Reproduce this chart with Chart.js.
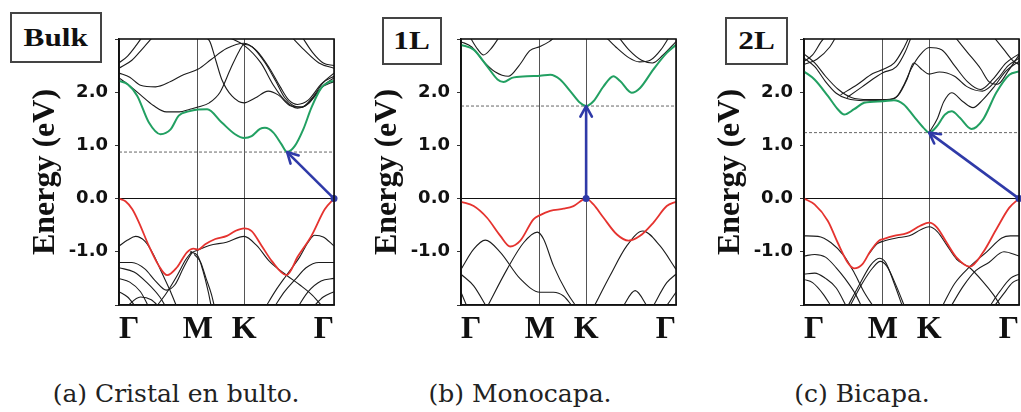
<!DOCTYPE html>
<html>
<head>
<meta charset="UTF-8">
<title>Bandas</title>
<script src="https://cdn.jsdelivr.net/npm/chart.js@4.4.1/dist/chart.umd.min.js"></script>
<style>
  body { margin: 0; background: #fff; }
  #wrap { position: relative; width: 1021px; height: 412px; overflow: hidden; background: #fff; }
  canvas { position: absolute; top: 0; }
  .tag {
    position: absolute; box-sizing: border-box; border: 2px solid #444; background: #fff;
    display: flex; align-items: center; justify-content: center; z-index: 2;
    font: bold 25px "Liberation Serif", serif; color: #111;
  }
  .tag span { display: inline-block; transform: scaleX(1.25); }
  .cap {
    position: absolute; top: 379px; transform: translateX(-50%); white-space: nowrap;
    font: 25px "DejaVu Serif", serif; line-height: 30px; color: #222;
  }
</style>
</head>
<body>
<div id="wrap">
  <canvas id="bulk" width="340" height="350" style="left:0px"></canvas>
  <canvas id="mono" width="340" height="350" style="left:342px"></canvas>
  <canvas id="bi" width="340" height="350" style="left:685px"></canvas>
  <div class="tag" style="left:10px;top:12px;width:92px;height:51px"><span>Bulk</span></div>
  <div class="tag" style="left:382px;top:17px;width:60px;height:48px"><span>1L</span></div>
  <div class="tag" style="left:725px;top:17px;width:63px;height:48px"><span>2L</span></div>
  <div class="cap" style="left:176px">(a) Cristal en bulto.</div>
  <div class="cap" style="left:520px">(b) Monocapa.</div>
  <div class="cap" style="left:862px">(c) Bicapa.</div>
</div>
<script>
// camino Γ-M-K-Γ (fraccion del recorrido) y energias en eV
const kPos = [0, 0.367, 0.582, 1];
const kNames = ['Γ', 'M', 'K', 'Γ'];
const eMin = -2, eMax = 3;

// (a) bulto
const bulkCond = [[0,2.21],[0.04,2.15],[0.085,1.93],[0.139,1.43],[0.193,1.21],[0.24,1.3],[0.278,1.56],[0.324,1.64],[0.367,1.675],[0.41,1.68],[0.478,1.43],[0.54,1.21],[0.582,1.14],[0.617,1.175],[0.656,1.31],[0.679,1.33],[0.718,1.24],[0.756,1.02],[0.782,0.875],[0.818,0.99],[0.857,1.3],[0.895,1.71],[0.941,2.08],[0.975,2.19],[1,2.21]];
const bulkVal = [[0,0],[0.03,-0.05],[0.062,-0.2],[0.093,-0.45],[0.139,-0.89],[0.185,-1.26],[0.224,-1.44],[0.27,-1.29],[0.316,-1.01],[0.347,-0.94],[0.367,-0.96],[0.401,-0.86],[0.448,-0.76],[0.502,-0.7],[0.54,-0.61],[0.582,-0.56],[0.617,-0.61],[0.664,-0.89],[0.71,-1.17],[0.779,-1.44],[0.833,-1.08],[0.895,-0.7],[0.957,-0.2],[1,0]];
const bulkBands = [
  [[0,2.55],[0.04,2.68],[0.08,2.88],[0.11,3.05]],
  [[0,2.45],[0.06,2.6],[0.11,2.82],[0.16,3.05]],
  [[0,2.36],[0.05,2.28],[0.1,2.13],[0.17,2.1],[0.24,2.2],[0.3,2.33],[0.367,2.43],[0.43,2.62],[0.5,2.82],[0.582,2.92],[0.64,2.78],[0.7,2.45],[0.75,2.1],[0.79,1.85],[0.83,1.77],[0.88,1.85],[0.94,2.15],[1,2.36]],
  [[0,2.27],[0.05,2.12],[0.1,1.95],[0.16,1.75],[0.22,1.63],[0.28,1.63],[0.33,1.68],[0.367,1.72],[0.42,1.8],[0.47,2.0],[0.52,2.45],[0.56,2.78],[0.582,2.9],[0.62,2.85],[0.68,2.55],[0.73,2.2],[0.77,1.9],[0.81,1.75],[0.85,1.72],[0.9,1.88],[0.95,2.12],[1,2.27]],
  [[0.38,3.05],[0.42,2.97],[0.45,2.6],[0.478,2.24],[0.525,1.93],[0.582,1.8],[0.633,1.89],[0.694,2.02],[0.74,1.95],[0.8,1.74],[0.85,1.72],[0.9,1.9],[0.95,2.18],[1,2.3]],
  [[0.5,3.05],[0.582,2.88],[0.66,2.55],[0.72,2.12],[0.77,1.85],[0.83,1.7],[0.88,1.78],[0.94,2.08],[1,2.2]],
  [[0.85,3.05],[0.9,2.75],[0.95,2.55],[1,2.5]],
  [[0.8,3.05],[0.86,2.8],[0.93,2.55],[1,2.45]],
  [[0,-0.89],[0.04,-0.78],[0.077,-0.71],[0.12,-0.8],[0.16,-1.05],[0.2,-1.4],[0.24,-1.75],[0.27,-2.05]],
  [[0,-1.2],[0.06,-1.2],[0.12,-1.32],[0.17,-1.55],[0.22,-1.72],[0.26,-1.62],[0.3,-1.3],[0.34,-1.02],[0.367,-0.97],[0.42,-0.88],[0.5,-0.82],[0.582,-0.71],[0.64,-0.88],[0.7,-1.18],[0.779,-1.44],[0.84,-1.62],[0.9,-1.82],[0.95,-2.05]],
  [[0,-1.3],[0.07,-1.38],[0.13,-1.58],[0.19,-1.85],[0.22,-2.05]],
  [[0,-1.5],[0.05,-1.57],[0.1,-1.75],[0.14,-2.05]],
  [[0,-1.75],[0.04,-1.85],[0.08,-2.05]],
  [[0.17,-2.05],[0.22,-1.78],[0.27,-1.45],[0.31,-1.15],[0.34,-0.99]],
  [[0.33,-1.0],[0.367,-1.08],[0.39,-1.35],[0.415,-1.75],[0.43,-2.05]],
  [[0.35,-1.05],[0.38,-1.2],[0.405,-1.5],[0.43,-1.8],[0.445,-2.05]],
  [[0.03,-2.05],[0.1,-1.85],[0.15,-1.9],[0.19,-2.05]],
  [[0.68,-2.05],[0.73,-1.72],[0.779,-1.44],[0.84,-1.1],[0.88,-0.82],[0.91,-0.69],[0.95,-0.72],[1,-0.89]],
  [[0.72,-2.05],[0.77,-1.75],[0.82,-1.52],[0.87,-1.3],[0.93,-1.2],[1,-1.2]],
  [[0.83,-2.05],[0.88,-1.75],[0.94,-1.55],[1,-1.5]],
  [[0.9,-2.05],[0.95,-1.85],[1,-1.75]]
];
const bulkGap = 0.875;
const bulkArrow = [[1,0],[0.782,0.875]];

// (b) monocapa
const monoCond = [[0,2.89],[0.059,2.8],[0.121,2.49],[0.17,2.24],[0.198,2.19],[0.237,2.27],[0.307,2.3],[0.368,2.31],[0.415,2.33],[0.461,2.24],[0.508,2.02],[0.554,1.8],[0.582,1.74],[0.616,1.83],[0.663,2.11],[0.709,2.3],[0.74,2.21],[0.794,1.99],[0.833,2.08],[0.895,2.43],[0.957,2.74],[1,2.89]];
const monoVal = [[0,-0.06],[0.059,-0.14],[0.121,-0.36],[0.183,-0.7],[0.229,-0.9],[0.276,-0.79],[0.337,-0.39],[0.368,-0.31],[0.415,-0.23],[0.477,-0.19],[0.523,-0.14],[0.582,0],[0.616,-0.11],[0.663,-0.36],[0.724,-0.67],[0.779,-0.79],[0.833,-0.7],[0.895,-0.45],[0.957,-0.14],[1,-0.06]];
const monoBands = [
  [[0,2.95],[0.05,2.85],[0.1,2.6],[0.16,2.38],[0.22,2.3],[0.27,2.5],[0.32,2.78],[0.368,2.86],[0.41,2.95],[0.44,3.05]],
  [[0.04,3.05],[0.07,2.85],[0.105,2.7],[0.14,2.82],[0.18,3.05]],
  [[0.67,3.05],[0.72,2.85],[0.78,2.65],[0.83,2.57],[0.88,2.6],[0.93,2.8],[0.97,3.05]],
  [[0.73,3.05],[0.78,2.8],[0.84,2.6],[0.89,2.55],[0.94,2.7],[1,2.95]],
  [[0,-1.33],[0.059,-0.95],[0.113,-0.78],[0.183,-1.01],[0.276,-1.51],[0.368,-1.76],[0.43,-1.76],[0.477,-1.83],[0.523,-2.05]],
  [[0.12,-2.05],[0.214,-1.33],[0.291,-0.83],[0.355,-0.63],[0.384,-0.76],[0.43,-1.26],[0.492,-1.76],[0.54,-2.05]],
  [[0,-1.42],[0.059,-1.64],[0.121,-2.05]],
  [[0,-1.76],[0.03,-2.05]],
  [[0.616,-2.05],[0.693,-1.45],[0.771,-0.89],[0.846,-0.61],[0.926,-0.89],[1,-1.33]],
  [[0.75,-2.05],[0.81,-1.73],[0.87,-2.05]],
  [[0.89,-2.05],[0.957,-1.58],[1,-1.42]],
  [[0.95,-2.05],[1,-1.76]]
];
const monoGap = 1.74;
const monoArrow = [[0.582,0],[0.582,1.74]];

// (c) bicapa
const biCond = [[0,2.39],[0.049,2.24],[0.111,1.93],[0.157,1.68],[0.187,1.58],[0.233,1.68],[0.28,1.8],[0.369,1.83],[0.418,1.85],[0.464,1.77],[0.51,1.55],[0.556,1.33],[0.582,1.24],[0.618,1.36],[0.656,1.58],[0.687,1.64],[0.725,1.52],[0.779,1.31],[0.833,1.49],[0.894,1.99],[0.955,2.33],[1,2.39]];
const biVal = [[0,0],[0.049,-0.11],[0.111,-0.42],[0.157,-0.83],[0.203,-1.2],[0.233,-1.31],[0.272,-1.23],[0.31,-0.98],[0.349,-0.79],[0.369,-0.76],[0.418,-0.7],[0.479,-0.65],[0.541,-0.51],[0.582,-0.45],[0.618,-0.54],[0.664,-0.83],[0.71,-1.11],[0.771,-1.28],[0.833,-1.01],[0.894,-0.58],[0.955,-0.17],[1,0]];
const biBands = [
  [[0,2.72],[0.05,2.55],[0.1,2.3],[0.16,2.05],[0.22,1.9],[0.3,1.86],[0.369,1.86],[0.42,1.88],[0.46,2.1],[0.5,2.45],[0.54,2.7],[0.582,2.84],[0.64,2.8],[0.7,2.5],[0.76,2.2],[0.82,2.05],[0.88,2.25],[0.94,2.55],[1,2.72]],
  [[0,2.64],[0.05,2.48],[0.1,2.2],[0.15,1.98],[0.2,1.88],[0.28,1.84],[0.369,1.85],[0.4,1.86],[0.44,1.95],[0.48,2.25],[0.51,2.55],[0.55,2.42],[0.582,2.34],[0.63,2.38],[0.7,2.3],[0.76,2.1],[0.83,2.02],[0.9,2.25],[0.95,2.5],[1,2.64]],
  [[0,2.58],[0.04,2.7],[0.08,2.95],[0.1,3.05]],
  [[0,2.52],[0.06,2.62],[0.12,2.85],[0.15,3.05]],
  [[0.17,1.95],[0.25,2.15],[0.32,2.35],[0.369,2.43],[0.42,2.55],[0.46,2.8],[0.49,3.05]],
  [[0.2,1.9],[0.27,2.1],[0.34,2.3],[0.369,2.37],[0.43,2.48],[0.47,2.75],[0.5,3.05]],
  [[0.582,1.24],[0.62,1.5],[0.65,1.82],[0.687,1.99],[0.74,1.82],[0.786,1.71],[0.83,1.85],[0.88,2.08],[0.94,2.4],[1,2.58]],
  [[0.7,3.05],[0.76,2.75],[0.82,2.45],[0.86,2.2],[0.9,2.15],[0.95,2.4],[1,2.7]],
  [[0.88,3.05],[0.93,2.8],[0.97,2.6],[1,2.52]],
  [[0.3,-1.05],[0.34,-0.85],[0.369,-0.8],[0.43,-0.74],[0.49,-0.7],[0.545,-0.58],[0.582,-0.53],[0.62,-0.62],[0.665,-0.88],[0.71,-1.14],[0.771,-1.3],[0.83,-1.55],[0.88,-1.8],[0.92,-2.05]],
  [[0,-0.7],[0.065,-0.71],[0.126,-0.83],[0.187,-1.08],[0.233,-1.39],[0.28,-1.76],[0.326,-2.05]],
  [[0,-1.08],[0.05,-1.05],[0.1,-1.1],[0.15,-1.3],[0.19,-1.5],[0.24,-1.8],[0.27,-2.05]],
  [[0,-1.42],[0.05,-1.4],[0.1,-1.5],[0.15,-1.68],[0.2,-2.05]],
  [[0,-1.52],[0.04,-1.58],[0.09,-1.8],[0.13,-2.05]],
  [[0.2,-2.05],[0.26,-1.6],[0.31,-1.25],[0.35,-1.12],[0.38,-1.2],[0.42,-1.6],[0.46,-2.05]],
  [[0.21,-2.05],[0.27,-1.6],[0.32,-1.3],[0.355,-1.18],[0.385,-1.27],[0.43,-1.65],[0.47,-2.05]],
  [[0.64,-2.05],[0.7,-1.6],[0.771,-1.28],[0.85,-1.0],[0.92,-0.74],[0.96,-0.7],[1,-0.7]],
  [[0.68,-2.05],[0.74,-1.65],[0.8,-1.35],[0.86,-1.2],[0.93,-1.0],[1,-1.08]],
  [[0.86,-2.05],[0.91,-1.75],[0.96,-1.5],[1,-1.42]],
  [[0.88,-2.05],[0.93,-1.78],[0.97,-1.58],[1,-1.52]]
];
const biGap = 1.24;
const biArrow = [[1,0],[0.582,1.24]];

const green = '#22a062', red = '#e5332f', blue = '#2f3aa8';

function pts(arr) {
  return arr.map(p => ({ x: p[0], y: p[1] }));
}

// marco del grafico y punta de flecha
const framePlugin = {
  id: 'frame',
  afterDatasetsDraw(chart) {
    const ctx = chart.ctx, a = chart.chartArea;
    chart.data.datasets.forEach((d, i) => {
      if (!d.arrow) return;
      const el = chart.getDatasetMeta(i).data;
      const p0 = el[el.length - 2], p1 = el[el.length - 1];
      const ang = Math.atan2(p1.y - p0.y, p1.x - p0.x);
      const len = 12, wing = 0.5;
      ctx.save();
      ctx.strokeStyle = d.borderColor;
      ctx.lineWidth = 2.6;
      ctx.lineCap = 'round';
      ctx.lineJoin = 'round';
      ctx.beginPath();
      ctx.moveTo(p1.x - len * Math.cos(ang - wing), p1.y - len * Math.sin(ang - wing));
      ctx.lineTo(p1.x, p1.y);
      ctx.lineTo(p1.x - len * Math.cos(ang + wing), p1.y - len * Math.sin(ang + wing));
      ctx.stroke();
      ctx.restore();
    });
    ctx.save();
    ctx.strokeStyle = '#111';
    ctx.lineWidth = 1.6;
    ctx.strokeRect(a.left, a.top, a.right - a.left, a.bottom - a.top);
    ctx.restore();
  }
};

function drawPanel(id, cond, val, bands, gap, arrow) {
  const datasets = [];
  datasets.push({ data: pts(arrow), borderColor: blue, backgroundColor: blue, borderWidth: 2.6,
    pointRadius: [3.5, 0], pointBorderWidth: 0, pointBackgroundColor: blue, arrow: true, clip: 6 });
  datasets.push({ data: pts(val), borderColor: red, borderWidth: 1.8, pointRadius: 0, cubicInterpolationMode: 'monotone' });
  datasets.push({ data: pts(cond), borderColor: green, borderWidth: 2, pointRadius: 0, cubicInterpolationMode: 'monotone' });
  datasets.push({ data: pts([[0, gap], [1, gap]]), borderColor: '#666', borderWidth: 1, borderDash: [3, 2], pointRadius: 0 });
  bands.forEach(b => {
    datasets.push({ data: pts(b), borderColor: '#1c1c1c', borderWidth: 1.1, pointRadius: 0, cubicInterpolationMode: 'monotone' });
  });

  return new Chart(document.getElementById(id), {
    type: 'line',
    data: { datasets: datasets },
    plugins: [framePlugin],
    options: {
      responsive: false,
      animation: false,
      layout: { padding: { top: 39, right: 5, left: 0, bottom: 0 } },
      plugins: { legend: { display: false }, tooltip: { enabled: false } },
      scales: {
        x: {
          type: 'linear', min: 0, max: 1,
          afterBuildTicks: s => { s.ticks = kPos.map(v => ({ value: v })); },
          afterFit: s => { s.height = 45; },
          grid: { color: '#555', lineWidth: 1, drawTicks: false },
          border: { color: '#111', width: 1.5 },
          ticks: {
            align: 'inner', padding: 6, color: '#111', maxRotation: 0, autoSkip: false,
            font: { family: 'Liberation Serif', weight: 'bold', size: 32 },
            callback: (v, i) => kNames[i]
          }
        },
        y: {
          min: eMin, max: eMax,
          afterFit: s => { s.width = 119; },
          grid: {
            color: c => c.tick && c.tick.value === 0 ? '#111' : 'rgba(0,0,0,0)',
            lineWidth: 1, tickLength: 4, tickColor: '#333'
          },
          border: { color: '#111', width: 1.5 },
          ticks: {
            stepSize: 1, padding: 7, color: '#111',
            font: { family: 'DejaVu Sans', weight: 'bold', size: 18 },
            callback: v => (v === eMin || v === eMax) ? '' : v.toFixed(1)
          },
          title: {
            display: true, text: 'Energy (eV)', color: '#111',
            font: { family: 'Liberation Serif', weight: 'bold', size: 32 },
            padding: { top: 27, bottom: 0 }
          }
        }
      }
    }
  });
}

drawPanel('bulk', bulkCond, bulkVal, bulkBands, bulkGap, bulkArrow);
drawPanel('mono', monoCond, monoVal, monoBands, monoGap, monoArrow);
drawPanel('bi', biCond, biVal, biBands, biGap, biArrow);
</script>
</body>
</html>
